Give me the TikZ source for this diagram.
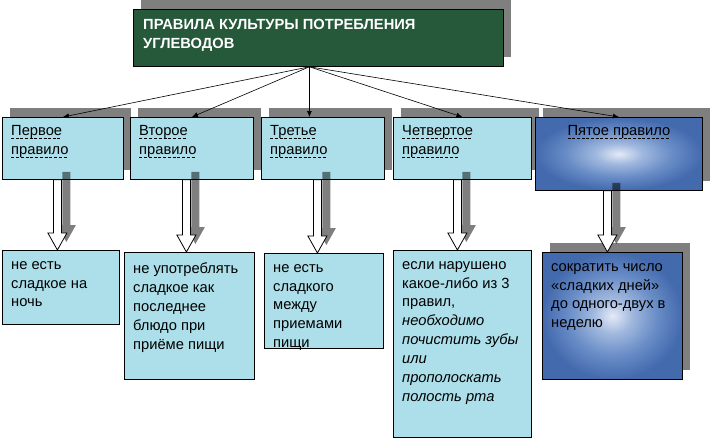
\documentclass[tikz,border=0pt]{standalone}
\usepackage{fontspec}
\setmainfont{Liberation Sans}
\usepackage{tikz}
\usetikzlibrary{calc,positioning,shadows,arrows.meta}

\definecolor{water}{RGB}{172,223,233}
\definecolor{marble}{RGB}{38,88,58}
\definecolor{deepblue}{RGB}{68,106,174}
\definecolor{midblue}{RGB}{104,140,198}
\definecolor{lightblue}{RGB}{160,184,222}
\definecolor{paleblue}{RGB}{228,234,246}
\pgfdeclareradialshading{bluebox}{\pgfpoint{0bp}{0bp}}{color(0bp)=(paleblue); color(7bp)=(lightblue); color(16bp)=(midblue); color(25bp)=(deepblue); color(50bp)=(deepblue)}

% dashed underline, as for a link
\newcommand{\linkline}[1]{\leavevmode\setbox0\hbox{#1}\rlap{\raisebox{-3.5pt}{\hbox to \wd0{\xleaders\hbox{\rule{3pt}{0.8pt}\hspace{1.6pt}}\hfill}}}\box0}

% hollow block arrow with its shadow, from #1 down to the top of #2
\newcommand{\blockarrow}[2]{%
  \fill[black, fill opacity=0.5] let \p1=(#1), \p2=(#2) in
    (\x1+5pt,\y1+8pt) -- (\x1+5pt,\y2+25pt) -- (\x1-0.5pt,\y2+25pt) -- (\x1+9pt,\y2+8pt)
    -- (\x1+18.5pt,\y2+25pt) -- (\x1+13pt,\y2+25pt) -- (\x1+13pt,\y1+8pt) -- cycle;
  \draw[fill=white, line width=0.8pt] let \p1=(#1), \p2=(#2) in
    (\x1-4pt,\y1) -- (\x1-4pt,\y2+17pt) -- (\x1-9.5pt,\y2+17pt) -- (\x1,\y2)
    -- (\x1+9.5pt,\y2+17pt) -- (\x1+4pt,\y2+17pt) -- (\x1+4pt,\y1) -- cycle;}

\begin{document}
\begin{tikzpicture}[x=1pt, y=-1pt, font=\fontsize{14.7}{19}\selectfont,
  shade/.style={drop shadow={shadow xshift=7.5pt, shadow yshift=9pt, fill=black, opacity=0.5}},
  plainbox/.style={draw, line width=0.8pt, anchor=north west, inner sep=0pt},
  boxtext/.style={anchor=north west, inner sep=0pt, align=left, xshift=9pt, yshift=-8pt},
  desctext/.style={boxtext, yshift=-3pt, font=\fontsize{14.7}{18.9}\selectfont},
  link/.style={-{Latex[length=6pt,width=5pt]}, line width=0.6pt}]
\useasboundingbox (0,0) rectangle (710,439);
\node[plainbox, shade, fill=marble, minimum width=370pt, minimum height=57pt, label={[boxtext, text=white, font=\fontsize{14.7}{19}\selectfont\bfseries, xshift=1pt, yshift=-2pt]north west:{ПРАВИЛА КУЛЬТУРЫ ПОТРЕБЛЕНИЯ\\УГЛЕВОДОВ}}] (title) at (133,9) {};
\node[plainbox, shade, fill=water, minimum width=121pt, minimum height=62pt, label={[boxtext]north west:{\linkline{Первое}\\\linkline{правило}}}] (r1) at (2,117) {};
\node[plainbox, shade, fill=water, minimum width=123pt, minimum height=62pt, label={[boxtext]north west:{\linkline{Второе}\\\linkline{правило}}}] (r2) at (130,117) {};
\node[plainbox, shade, fill=water, minimum width=123pt, minimum height=62pt, label={[boxtext]north west:{\linkline{Третье}\\\linkline{правило}}}] (r3) at (261,117) {};
\node[plainbox, shade, fill=water, minimum width=138pt, minimum height=62pt, label={[boxtext]north west:{\linkline{Четвертое}\\\linkline{правило}}}] (r4) at (393,117) {};
\node[plainbox, shade, shading=bluebox, minimum width=167pt, minimum height=73pt, label={[boxtext, anchor=north, xshift=-9pt]north:{\linkline{Пятое правило}}}] (r5) at (535,117) {};
\node[plainbox, fill=water, minimum width=117pt, minimum height=74pt, label={[desctext]north west:{не есть\\сладкое на\\ночь}}] (d1) at (2,250) {};
\node[plainbox, fill=water, minimum width=130pt, minimum height=127pt, label={[desctext]north west:{не употреблять\\сладкое как\\последнее\\блюдо при\\приёме пищи}}] (d2) at (124,252) {};
\node[plainbox, fill=water, minimum width=119pt, minimum height=95pt, label={[desctext]north west:{не есть\\сладкого\\между\\приемами\\пищи}}] (d3) at (264,253) {};
\node[plainbox, fill=water, minimum width=138pt, minimum height=187pt, label={[desctext]north west:{если нарушено\\какое-либо из 3\\правил,\\\textit{необходимо}\\\textit{почистить зубы}\\\textit{или}\\\textit{прополоскать}\\\textit{полость рта}}}] (d4) at (393,250) {};
\node[plainbox, shade, shading=bluebox, minimum width=140pt, minimum height=127pt, label={[desctext]north west:{сократить число\\«сладких дней»\\до одного-двух в\\неделю}}] (d5) at (542,252) {};
\coordinate (hub) at ([xshift=-9pt]title.south);
\draw[link] (hub) -- (r1.north);
\draw[link] (hub) -- (r2.north);
\draw[link] (hub) -- (hub |- r3.north);
\draw[link] (hub) -- (r4.north);
\draw[link] (hub) -- (r5.north);
\blockarrow{[xshift=-5.5pt]r1.south}{d1.north}
\blockarrow{[xshift=-5.5pt]r2.south}{d2.north}
\blockarrow{[xshift=-5.5pt]r3.south}{d3.north}
\blockarrow{[xshift=-5pt]r4.south}{d4.north}
\blockarrow{[xshift=-11.5pt]r5.south}{d5.north}
\end{tikzpicture}
\end{document}
